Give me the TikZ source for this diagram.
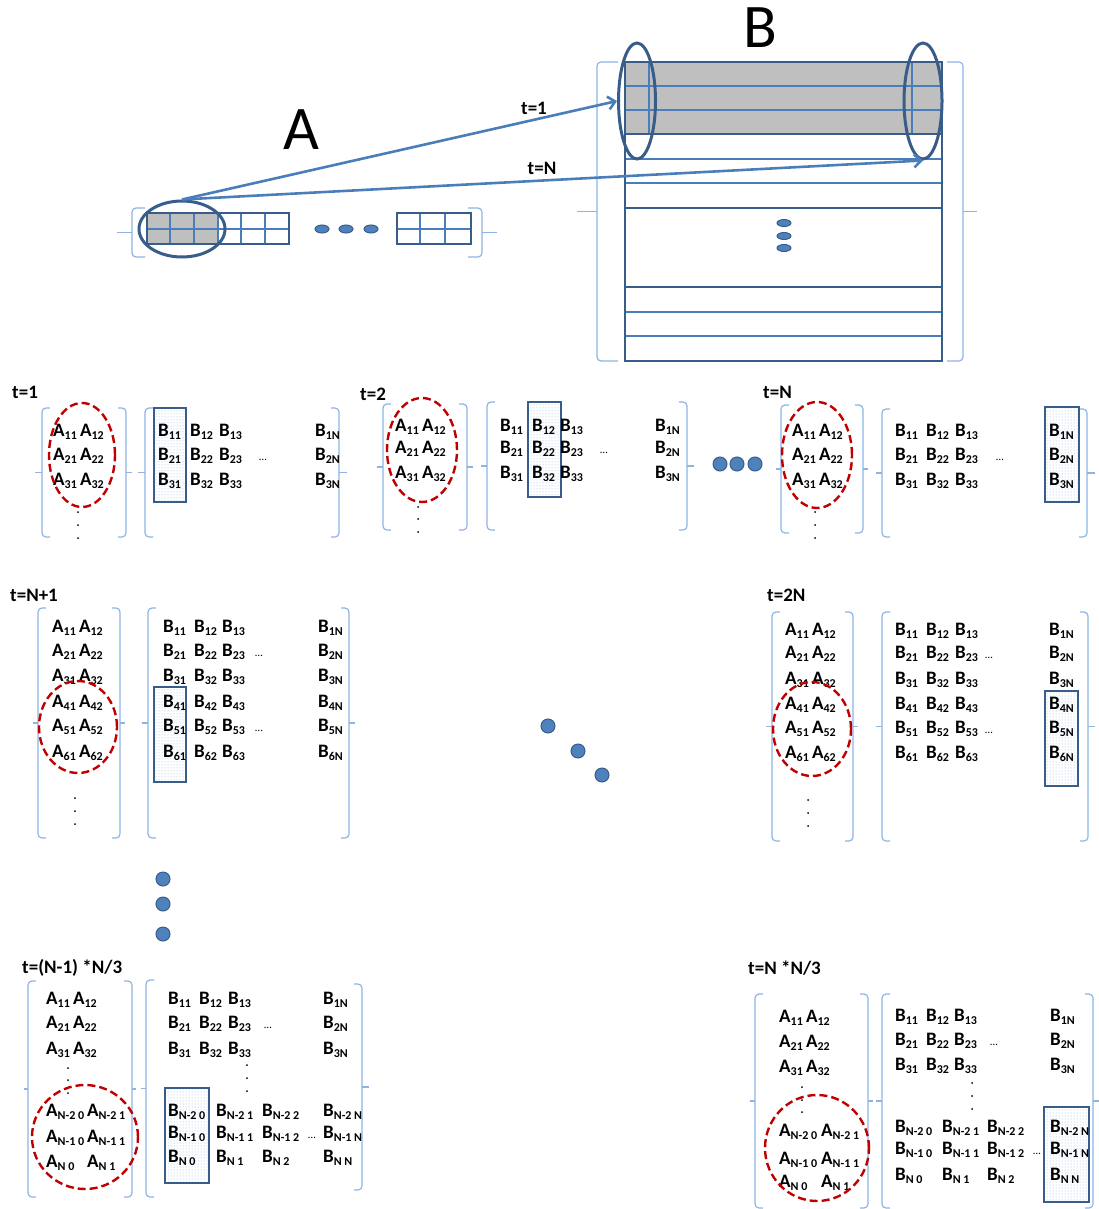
\documentclass[tikz,border=0pt]{standalone}
\usepackage{fontspec}
\setmainfont{Carlito}
\usetikzlibrary{shapes.geometric, patterns, arrows.meta}

\definecolor{boxblue}{HTML}{385D8A}
\definecolor{lineblue}{HTML}{4A7EBB}
\definecolor{brkblue}{HTML}{8EB4E3}
\definecolor{selred}{HTML}{C00000}
\definecolor{cellgray}{HTML}{BFBFBF}
\definecolor{dotblue}{HTML}{4F81BD}

\newcommand{\subidx}[1]{\raisebox{-2.5pt}{\fontsize{12}{12}\selectfont #1}}
\newcommand{\matA}[1]{A\subidx{#1}}
\newcommand{\matB}[1]{B\subidx{#1}}
% x, top, bottom, arm, tip
\newcommand{\sidebrace}[5]{%
  \draw[brk, rounded corners=4pt] ({#1+#4},#2) -- (#1,#2) -- (#1,#3) -- ({#1+#4},#3);
  \draw[brk] (#1,{(#2+#3)/2}) -- ({#1-#5},{(#2+#3)/2});
}

\tikzset{
  ent/.style={font=\fontsize{19}{19}\selectfont\bfseries, anchor=west, inner sep=0pt},
  tlab/.style={font=\fontsize{19}{19}\selectfont\bfseries, anchor=west, inner sep=0pt},
  hdots/.style={font=\fontsize{11}{11}\selectfont, inner sep=0pt},
  brk/.style={draw=brkblue, line width=1.2pt},
  selA/.style={draw=selred, line width=2.4pt, dash pattern=on 8pt off 4pt},
  selB/.style={draw=boxblue, line width=2pt, pattern=dots, pattern color=brkblue},
  bigdot/.style={fill=dotblue, draw=boxblue, line width=1pt},
  cellline/.style={draw=lineblue, line width=1.6pt},
  boxline/.style={draw=boxblue, line width=2pt},
  ring/.style={ellipse, draw=boxblue, line width=3pt, inner sep=0pt},
  arr/.style={draw=lineblue, line width=2.6pt, -{Straight Barb[length=7pt, width=13pt]}},
}

\begin{document}
\begin{tikzpicture}[x=1pt, y=-1pt]
\useasboundingbox (0,0) rectangle (1099,1209);

% vector A
\node[font=\fontsize{62}{62}\selectfont] (labA) at (301,130) {A};
\fill[cellgray] (147,213) rectangle (218,244);
\foreach \x in {170,194,218,241,265} \draw[cellline] (\x,213) -- (\x,244);
\draw[cellline] (147,229) -- (289,229);
\draw[boxline] (147,213) rectangle (289,244);
\foreach \x in {322,346,371} \draw[bigdot] (\x,229) ellipse (7pt and 4pt);
\draw[cellline] (420,213) -- (420,244) (445,213) -- (445,244) (397,229) -- (471,229);
\draw[boxline] (397,213) rectangle (471,244);
\sidebrace{132}{208}{257}{13}{15}
\sidebrace{482}{208}{257}{-14}{-15}
\node[ring, minimum width=86pt, minimum height=56pt] (selRow) at (182,229) {};

% matrix B
\node[font=\fontsize{62}{62}\selectfont] (labB) at (760,28) {B};
\fill[cellgray] (625,62) rectangle (942,134);
\foreach \y in {86,110,159,183,312,336} \draw[cellline] (625,\y) -- (942,\y);
\draw[cellline] (649,62) -- (649,134) (912,62) -- (912,134);
\foreach \y in {134,208,287} \draw[boxline] (625,\y) -- (942,\y);
\draw[boxline] (625,62) rectangle (942,361);
\foreach \y in {223,236,248} \draw[bigdot] (784,\y) ellipse (7pt and 3.5pt);
\sidebrace{597}{62}{361}{21}{20}
\sidebrace{963}{62}{361}{-16}{-14}
\node[ring, minimum width=37pt, minimum height=116pt] (colFirst) at (637,101) {};
\node[ring, minimum width=38pt, minimum height=116pt] (colLast) at (923,101) {};

\draw[arr] (selRow.north) -- (colFirst.west);
\draw[arr] (selRow.north) -- (colLast.south);
\node[tlab, anchor=center] (arrT1) at (534,108) {t=1};
\node[tlab, anchor=center] (arrTN) at (542,168) {t=N};

% t=1
\node[tlab] (t1) at (12,392) {t=1};
\sidebrace{42}{408}{537}{8}{7}
\sidebrace{126}{408}{537}{-8}{-6}
\sidebrace{145}{408}{537}{8}{7}
\sidebrace{339}{408}{537}{-8}{-8}
\draw[selB] (154,408) rectangle (186,502);
\foreach \r/\y in {1/432,2/456,3/481}{
  \node[ent] (p1a\r) at (53,\y) {\matA{\r1}\,\matA{\r2}};
  \foreach \c/\x in {1/158,2/190,3/219} \node[ent] (p1b\r\c) at (\x,\y) {\matB{\r\c}};
  \node[ent] (p1bN\r) at (315,\y) {\matB{\r N}};
}
\node[hdots] (p1h) at (263,460) {\ldots};
\foreach \d in {0,13,26} \fill (78,{512+\d}) circle (1pt);
\draw[selA] (82,455) ellipse (33pt and 52pt);

% t=2
\node[tlab] (t2) at (360,394) {t=2};
\sidebrace{383}{404}{530}{8}{6}
\sidebrace{467}{404}{530}{-8}{-6}
\sidebrace{487}{402}{530}{8}{6}
\sidebrace{687}{402}{530}{-8}{-7}
\draw[selB] (528,402) rectangle (561,497);
\foreach \r/\y in {1/427,2/449,3/474}{
  \node[ent] (p2a\r) at (395,\y) {\matA{\r1}\,\matA{\r2}};
  \foreach \c/\x in {1/500,2/532,3/560} \node[ent] (p2b\r\c) at (\x,\y) {\matB{\r\c}};
  \node[ent] (p2bN\r) at (655,\y) {\matB{\r N}};
}
\node[hdots] (p2h) at (604,453) {\ldots};
\foreach \d in {0,12,25} \fill (418,{507+\d}) circle (1pt);
\draw[selA] (422,450) ellipse (35pt and 52pt);

% t=N
\foreach \x in {720,737,755} \draw[bigdot] (\x,464) circle (7pt);
\node[tlab] (tN) at (763,392) {t=N};
\sidebrace{781}{405}{533}{8}{5}
\sidebrace{863}{405}{533}{-8}{-5}
\sidebrace{882}{409}{537}{8}{6}
\sidebrace{1087}{409}{537}{-8}{-8}
\draw[selB] (1045,407) rectangle (1079,502);
\foreach \r/\y in {1/432,2/456,3/481}{
  \node[ent] (p3a\r) at (792,\y) {\matA{\r1}\,\matA{\r2}};
  \foreach \c/\x in {1/895,2/926,3/955} \node[ent] (p3b\r\c) at (\x,\y) {\matB{\r\c}};
  \node[ent] (p3bN\r) at (1049,\y) {\matB{\r N}};
}
\node[hdots] (p3h) at (1000,460) {\ldots};
\foreach \d in {0,13,26} \fill (815,{512+\d}) circle (1pt);
\draw[selA] (817,455) ellipse (35pt and 53pt);

% t=N+1
\node[tlab] (tN1) at (10,595) {t=N+1};
\sidebrace{38}{608}{838}{8}{5}
\sidebrace{120}{608}{838}{-8}{-5}
\sidebrace{148}{608}{838}{8}{6}
\sidebrace{349}{608}{838}{-8}{-6}
\draw[selB] (154,687) rectangle (186,782);
\foreach \r/\y in {1/628,2/652,3/677,4/703,5/727,6/753}{
  \node[ent] (p4a\r) at (52,\y) {\matA{\r1}\,\matA{\r2}};
  \foreach \c/\x in {1/163,2/194,3/222} \node[ent] (p4b\r\c) at (\x,\y) {\matB{\r\c}};
  \node[ent] (p4bN\r) at (318,\y) {\matB{\r N}};
}
\node[hdots] (p4h2) at (259,656) {\ldots};
\node[hdots] (p4h5) at (259,731) {\ldots};
\foreach \d in {0,13,26} \fill (75,{798+\d}) circle (1pt);
\draw[selA] (78,727) ellipse (39pt and 46pt);

% t=2N
\node[tlab] (t2N) at (767,595) {t=2N};
\sidebrace{772}{612}{841}{8}{6}
\sidebrace{853}{612}{841}{-8}{-5}
\sidebrace{882}{612}{841}{8}{6}
\sidebrace{1088}{612}{841}{-8}{-7}
\draw[selB] (1045,691) rectangle (1078,786);
\foreach \r/\y in {1/631,2/654,3/680,4/705,5/729,6/754}{
  \node[ent] (p5a\r) at (785,\y) {\matA{\r1}\,\matA{\r2}};
  \foreach \c/\x in {1/895,2/926,3/955} \node[ent] (p5b\r\c) at (\x,\y) {\matB{\r\c}};
  \node[ent] (p5bN\r) at (1049,\y) {\matB{\r N}};
}
\node[hdots] (p5h2) at (989,658) {\ldots};
\node[hdots] (p5h5) at (989,733) {\ldots};
\foreach \d in {0,13,26} \fill (808,{800+\d}) circle (1pt);
\draw[selA] (812,729) ellipse (39pt and 47pt);

% steps in between
\foreach \p in {(548,726),(578,751),(602,775)} \draw[bigdot] \p circle (7pt);
\foreach \y in {879,904,934} \draw[bigdot] (163,\y) circle (7pt);

% t=(N-1)*N/3
\node[tlab] (tb1) at (22,968) {t=(N-1) *N/3};
\sidebrace{28}{981}{1197}{8}{4}
\sidebrace{132}{981}{1197}{-8}{-4}
\sidebrace{146}{980}{1197}{8}{5}
\sidebrace{362}{984}{1190}{-8}{-7}
\draw[selB] (165,1088) rectangle (209,1183);
\foreach \r/\y in {1/1000,2/1024,3/1050}{
  \node[ent] (p6a\r) at (46,\y) {\matA{\r1}\,\matA{\r2}};
  \foreach \c/\x in {1/168,2/199,3/228} \node[ent] (p6b\r\c) at (\x,\y) {\matB{\r\c}};
  \node[ent] (p6bN\r) at (323,\y) {\matB{\r N}};
}
\node[hdots] (p6h2) at (268,1028) {\ldots};
\foreach \d in {0,12,25} \fill (68,{1068+\d}) circle (1pt);
\foreach \d in {0,13,26} \fill (247,{1065+\d}) circle (1pt);
\foreach \r/\y/\z in {N-2/1112/1112,N-1/1138/1134,N/1163/1158}{
  \node[ent] (p6al\r) at (46,\y) {\matA{\r\ 0}};
  \node[ent] (p6ar\r) at (87,\y) {\matA{\r\ 1}};
  \node[ent] (p6b\r0) at (168,\z) {\matB{\r\ 0}};
  \node[ent] (p6b\r1) at (216,\z) {\matB{\r\ 1}};
  \node[ent] (p6b\r2) at (262,\z) {\matB{\r\ 2}};
  \node[ent] (p6b\r N) at (323,\z) {\matB{\r\ N}};
}
\node[hdots] (p6h5) at (312,1138) {\ldots};
\draw[selA] (85,1137) ellipse (53pt and 52pt);

% t=N*N/3
\node[tlab] (tb2) at (748,968) {t=N *N/3};
\sidebrace{755}{994}{1208}{8}{5}
\sidebrace{868}{994}{1208}{-8}{-5}
\sidebrace{882}{994}{1208}{8}{6}
\sidebrace{1093}{994}{1208}{-8}{-6}
\draw[selB] (1044,1107) rectangle (1089,1202);
\foreach \r/\y/\z in {1/1018/1017,2/1043/1041,3/1068/1066}{
  \node[ent] (p7a\r) at (779,\y) {\matA{\r1}\,\matA{\r2}};
  \foreach \c/\x in {1/895,2/926,3/954} \node[ent] (p7b\r\c) at (\x,\z) {\matB{\r\c}};
  \node[ent] (p7bN\r) at (1050,\z) {\matB{\r N}};
}
\node[hdots] (p7h2) at (994,1045) {\ldots};
\foreach \d in {0,13,25} \fill (802,{1087+\d}) circle (1pt);
\foreach \d in {0,13,26} \fill (972,{1083+\d}) circle (1pt);
\foreach \r/\y/\z in {N-2/1132/1128,N-1/1160/1150,N/1183/1176}{
  \node[ent] (p7al\r) at (779,\y) {\matA{\r\ 0}};
  \node[ent] (p7ar\r) at (821,\y) {\matA{\r\ 1}};
  \node[ent] (p7b\r0) at (895,\z) {\matB{\r\ 0}};
  \node[ent] (p7b\r1) at (942,\z) {\matB{\r\ 1}};
  \node[ent] (p7b\r2) at (987,\z) {\matB{\r\ 2}};
  \node[ent] (p7b\r N) at (1050,\z) {\matB{\r\ N}};
}
\node[hdots] (p7h5) at (1037,1154) {\ldots};
\draw[selA] (817,1148) ellipse (52pt and 53pt);
\end{tikzpicture}
\end{document}
